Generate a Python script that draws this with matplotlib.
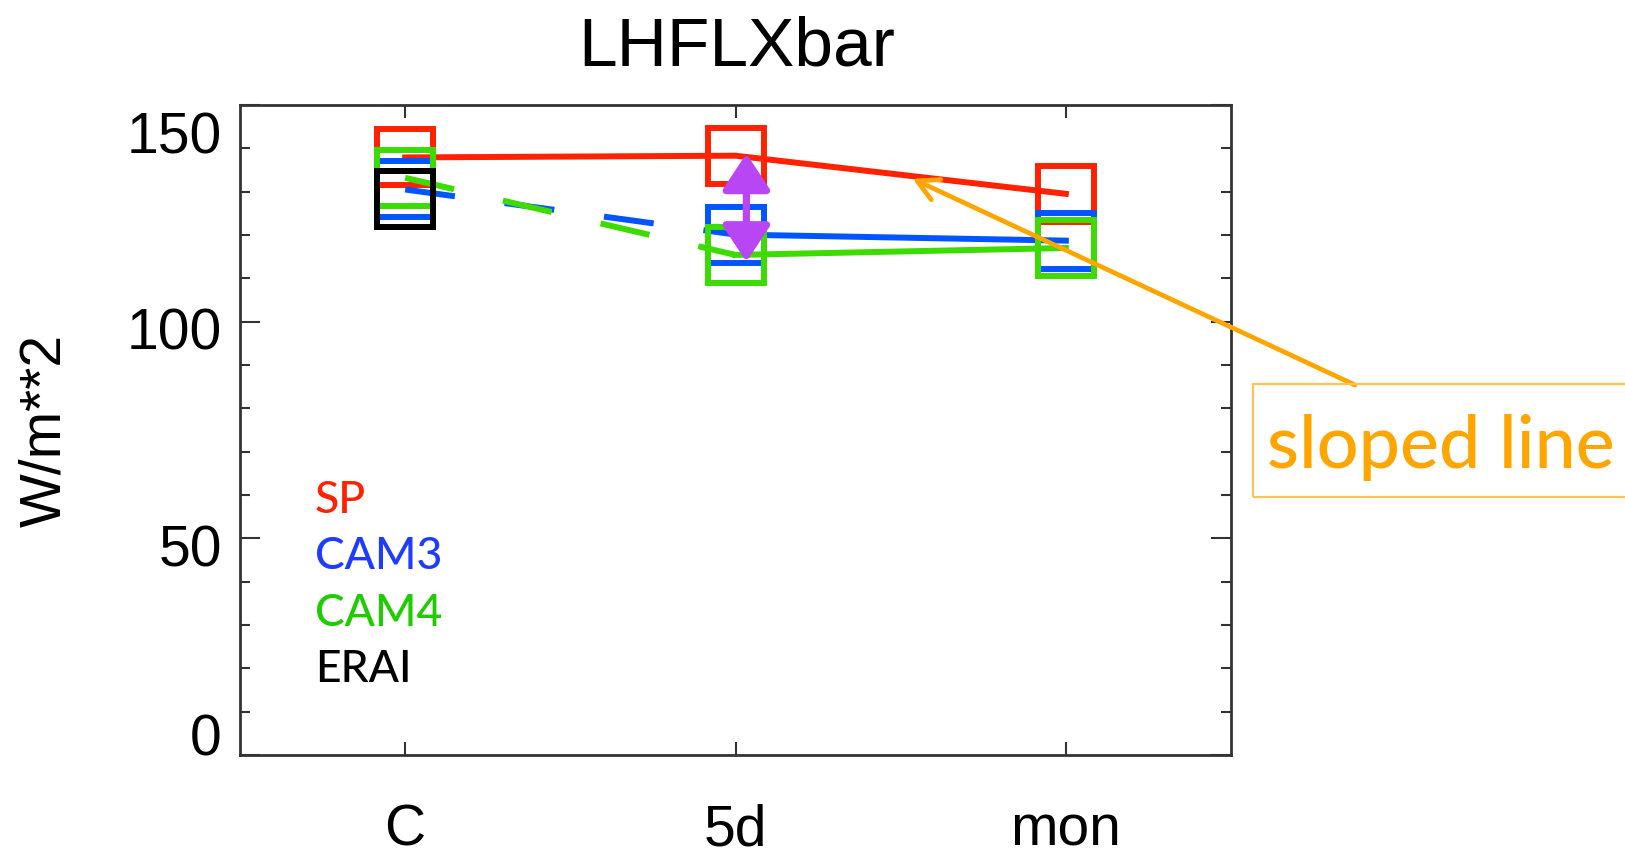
import matplotlib
matplotlib.use('Agg')
import matplotlib.pyplot as plt
from matplotlib.ticker import MultipleLocator
from matplotlib.transforms import ScaledTranslation

plt.rcParams['font.family'] = ['Liberation Sans', 'DejaVu Sans']

# data
cases = ['C', '5d', 'mon']
sp = [137.9, 138.3, 129.5]
cam3 = [130.5, 120.1, 118.7]
cam4 = [133.2, 115.4, 117.0]
erai = [128.3]
legend_names = ['SP', 'CAM3', 'CAM4', 'ERAI']

RED, BLUE, GREEN, BLACK = '#ff2200', '#0055ff', '#3cdc00', '#000000'
PURPLE, ORANGE = '#b946f5', '#ffa500'

fig = plt.figure(figsize=(16.25, 8.6), dpi=100)
ax = fig.add_axes([240/1625, 105/860, 991/1625, 650/860])

x = list(range(len(cases)))
LW, MS, MEW = 4.3, 41, 4.3
sq = dict(marker='s', ms=MS, mfc='none', mew=MEW, ls='none')

# SP: solid all the way
ax.plot(x, sp, color=RED, lw=LW, zorder=3)
ax.plot(x, sp, color=RED, zorder=3.1, **sq)
# CAM3 / CAM4: dashed C->5d, solid 5d->mon
for i, (vals, col) in enumerate([(cam3, BLUE), (cam4, GREEN)]):
    z = 4 + i
    ax.plot(x[:2], vals[:2], color=col, lw=LW, dashes=(8.4, 8.4), zorder=z)
    ax.plot(x[1:], vals[1:], color=col, lw=LW, zorder=z)
    ax.plot(x, vals, color=col, zorder=z + 0.1, **sq)
ax.plot(x[:1], erai, color=BLACK, zorder=6, **sq)

ax.set_xlim(-0.5, 2.5)
ax.set_ylim(0, 150)
ax.set_xticks(x, cases)
ax.set_yticks([0, 50, 100, 150])
ax.yaxis.set_minor_locator(MultipleLocator(10))

for s in ax.spines.values():
    s.set_linewidth(2.0)
    s.set_color('#333333')
ax.tick_params(which='both', direction='in', top=True, right=True,
               width=1.5, color='#333333', labelsize=41)
ax.tick_params(axis='x', length=9.4, pad=35)
ax.tick_params(axis='y', which='major', length=14.4, pad=13)
ax.tick_params(axis='y', which='minor', length=7.2)

# IDL-like label placement (shift labels vertically, px, down positive)
shifts = [-20, 7, 7, 28]
for lab, dy in zip(ax.get_yticklabels(), shifts):
    lab.set_transform(lab.get_transform() + ScaledTranslation(0, -dy/100, fig.dpi_scale_trans))

fig.text(737/1625, 1 - 65/860, 'LHFLXbar', ha='center', va='baseline', fontsize=50)
fig.text(45/1625, 1 - 430/860, 'W/m**2', rotation=90, ha='center', va='center', fontsize=41)

# legend as coloured text
leg_cols = [RED, '#1e3cff', '#1ecc00', BLACK]
for k, (name, col) in enumerate(zip(legend_names, leg_cols)):
    fig.text(315/1625, 1 - (513 + 56.3*k)/860, name, color=col, fontsize=32,
             family=['Lato', 'DejaVu Sans'], weight='medium', ha='left', va='baseline')

# purple double arrow at 5d
ax.annotate('', xy=(1.033, cam4[1] - 1.6), xytext=(1.033, sp[1] + 0.5),
            arrowprops=dict(arrowstyle='<|-|>,head_length=2.2,head_width=1.45',
                            mutation_scale=10, lw=5.2, color=PURPLE,
                            shrinkA=0, shrinkB=0), zorder=8)

# orange annotation
ax.annotate('', xy=(1.536, sp[1] + 0.536*(sp[2] - sp[1]) - 0.6),
            xytext=(1355, 860 - 385), textcoords='figure pixels',
            arrowprops=dict(arrowstyle='->,head_length=1.5,head_width=0.8',
                            mutation_scale=10, lw=3.4, color=ORANGE,
                            shrinkA=0, shrinkB=0),
            annotation_clip=False, zorder=9)
box = plt.Rectangle((1253/1625, (860 - 497)/860), 0.3, 113/860, transform=fig.transFigure,
                    fill=False, ec='#ffc257', lw=1.6, clip_on=False)
fig.patches.append(box)
fig.text(1267/1625, 1 - 468/860, 'sloped line', color=ORANGE, fontsize=53,
         family=['Lato', 'DejaVu Sans'], weight='medium', ha='left', va='baseline')

fig.savefig('out.png', dpi=100)
